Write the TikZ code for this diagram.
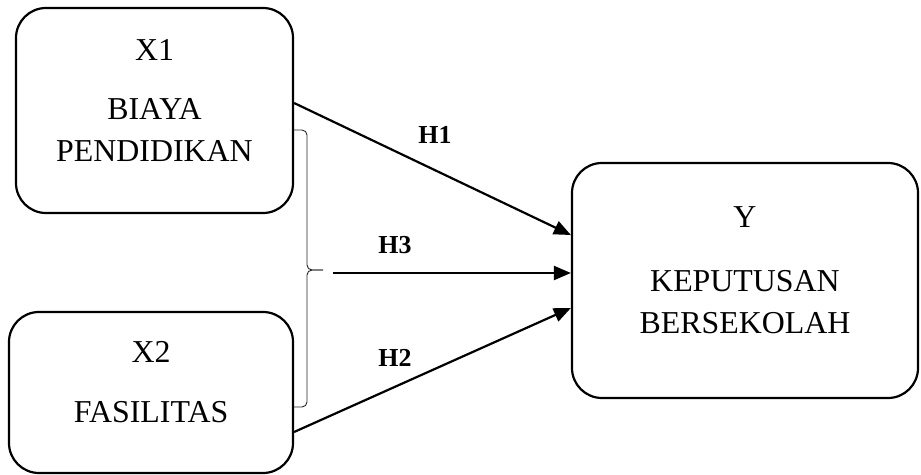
\documentclass[tikz,border=0pt]{standalone}
\usepackage{fontspec}
\setmainfont{Liberation Serif}
\usetikzlibrary{arrows.meta,positioning,calc}
\definecolor{ink}{HTML}{000000}
\definecolor{braceink}{HTML}{262626}
\tikzset{
  varbox/.style={
    draw=ink, fill=white, line width=2.2bp, rounded corners=30bp,
    inner sep=0pt
  },
  vartext/.style={
    align=center, inner sep=0pt,
    font=\fontsize{32}{42}\selectfont
  },
  hyplabel/.style={
    inner sep=0pt, font=\fontsize{26}{30}\selectfont\bfseries
  },
  hyparrow/.style={draw=ink, line width=2.2bp, -{Triangle[length=17bp,width=14bp]}},
  groupbrace/.style={draw=braceink, line width=0.9bp, rounded corners=5bp}
}

\begin{document}
\begin{tikzpicture}[x=1bp,y=-1bp]
  \useasboundingbox (0,0) rectangle (921,475);
  % variables
  \node[varbox, minimum width=277bp, minimum height=205bp] (x1) at (154.5,110.5) {};
  \node[varbox, minimum width=284bp, minimum height=161bp] (x2) at (151,392.5) {};
  \node[varbox, minimum width=346bp, minimum height=235bp] (y) at (745,280.5) {};
  \node[vartext] (x1txt) at ($(x1.center)+(0,-10)$) {X1\\[18bp]BIAYA\\PENDIDIKAN};
  \node[vartext] (x2txt) at ($(x2.center)+(0,-10)$) {X2\\[18bp]FASILITAS};
  \node[vartext] (ytxt) at ($(y.center)+(0,-10)$) {Y\\[22bp]KEPUTUSAN\\BERSEKOLAH};
  % brace over both variables
  \coordinate (bt) at (294,130);
  \coordinate (bb) at (294,407);
  \coordinate (btip) at (323,270);
  \coordinate (h3start) at (333,273);
  \draw[groupbrace] (bt) -- ++(13,0) |- (btip);
  \draw[groupbrace] (bb) -- ++(13,0) |- (btip);
  % hypotheses
  \draw[hyparrow] ($(x1.east)+(0,-7.5)$) -- ($(y.west)+(0,-45.5)$);
  \draw[hyparrow] (h3start) -- ($(y.west)+(0,-7.5)$);
  \draw[hyparrow] ($(x2.east)+(0,39.5)$) -- ($(y.west)+(0,27.5)$);
  \node[hyplabel] (h1) at (435,135) {H1};
  \node[hyplabel] (h3) at (395,245) {H3};
  \node[hyplabel] (h2) at (395,358) {H2};
\end{tikzpicture}
\end{document}
